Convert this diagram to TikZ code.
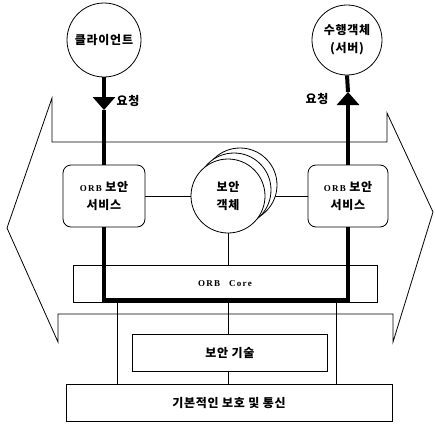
\documentclass[tikz,border=0pt]{standalone}
\usepackage{fontspec}
\setmainfont{Liberation Serif}
\newfontfamily\kr[LetterSpace=6]{Noto Sans CJK KR}
\usetikzlibrary{positioning,arrows.meta,backgrounds}
\newcommand\orbtxt[1]{{\rmfamily\bfseries\fontsize{9}{10}\selectfont\addfontfeature{LetterSpace=14}#1}}

\begin{document}
\begin{tikzpicture}[x=1pt,y=-1pt,line width=0.8pt]
  \tikzstyle{krtext}=[font=\kr\bfseries\fontsize{12}{18}\selectfont,align=center]
  \tikzstyle{ball}=[draw,circle,fill=white,inner sep=0pt,krtext]
  \tikzstyle{svc}=[draw,rounded corners=8pt,fill=white,minimum width=82pt,minimum height=62pt,krtext]
  \tikzstyle{layer}=[draw,fill=white,minimum height=37pt,krtext]
  \tikzstyle{flow}=[line width=4pt]
  \tikzstyle{tip}=[-{Triangle[width=22pt,length=13pt]}]

  \useasboundingbox (0,0) rectangle (435,424);

  % big double arrow behind everything
  \draw (52,98) -- (52,142) -- (387,142) -- (387,113) -- (433,212)
    -- (393,342) -- (393,314) -- (58,314) -- (58,342) -- (7,228) -- cycle;

  \node[ball,minimum size=74pt] (cl) at (104,40) {클라이언트};
  \node[ball,minimum size=70pt] (sv) at (347,40) {수행객체\\(서버)};
  \node[svc] (s1) at (104,196) {\orbtxt{ORB} 보안\\서비스};
  \node[svc,minimum width=80pt] (s2) at (348,196) {\orbtxt{ORB} 보안\\서비스};

  % security object, three stacked circles
  \node[ball,minimum size=74pt] (o3) at (240,185) {};
  \node[ball,minimum size=74pt] (o2) at (234,190) {};
  \node[ball,minimum size=74pt] (obj) at (228,196) {보안\\객체};

  \node[layer,minimum width=304pt] (core) at (225,284) {\orbtxt{ORB\quad Core}};
  \node[layer,minimum width=195pt] (tech) at (230,353) {보안 기술};
  \node[layer,minimum width=326pt] (base) at (229,403) {기본적인 보호 및 통신};

  \begin{pgfonlayer}{background}
    \draw (s1.east) -- (s1.east -| obj);
    \draw (s2.west) -- (s2.west -| obj);
  \end{pgfonlayer}

  \draw (obj.south) -- (obj.south |- core.north);
  \draw (obj.south |- core.south) -- (obj.south |- tech.north);
  \draw (obj.south |- tech.south) -- (obj.south |- base.north);
  \coordinate (v1) at (117,0);
  \coordinate (v2) at (336,0);
  \draw (core.south -| v1) -- (base.north -| v1);
  \draw (core.south -| v2) -- (base.north -| v2);

  % request path
  \coordinate (ar1) at (104,110);
  \coordinate (ar2) at (348,92);
  \coordinate (b1) at (104,300);
  \coordinate (b2) at (348,300);
  \draw[flow,tip] (cl.south) -- (ar1);
  \draw[flow] (ar1) -- (s1.north);
  \draw[flow] (s1.south) -- (b1) -- (b2) -- (s2.south);
  \draw[flow,tip] (s2.north) -- (ar2);
  \draw[flow] (ar2) -- (sv.south);
  \node[krtext] (q1) at (128,101) {요청};
  \node[krtext] (q2) at (317,99) {요청};
\end{tikzpicture}
\end{document}
